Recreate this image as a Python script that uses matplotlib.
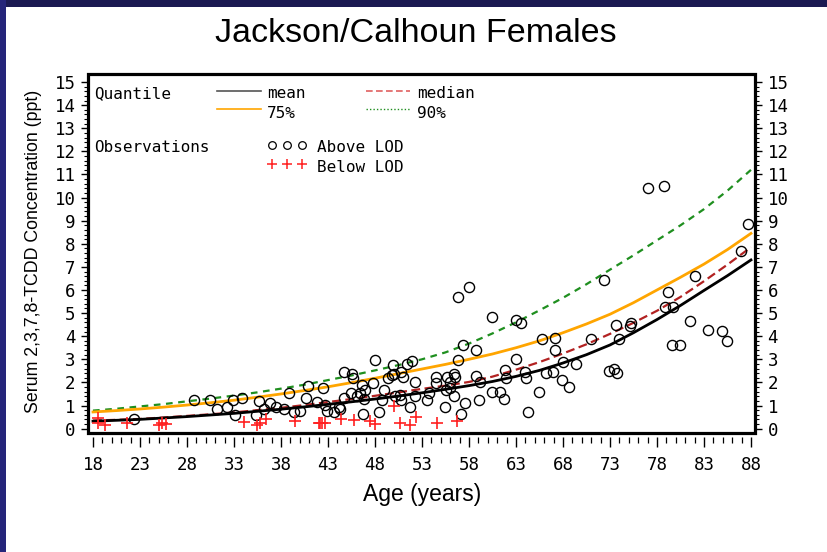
import matplotlib
matplotlib.use('Agg')
import matplotlib.pyplot as plt
from matplotlib import font_manager as fm
from matplotlib.patches import Rectangle
from matplotlib.lines import Line2D
from matplotlib.ticker import FixedLocator

# ---------------- data ----------------
curve_ages = [18, 20.5, 23, 25.5, 28, 30.5, 33, 35.5, 38, 40.5, 43, 45.5, 48, 50.5, 53,
              55.5, 58, 60.5, 63, 65.5, 68, 70.5, 73, 75.5, 78, 80.5, 83, 85.5, 88]
mean_vals = [0.32, 0.36, 0.40, 0.46, 0.52, 0.59, 0.66, 0.75, 0.84, 0.94, 1.05, 1.16, 1.28,
             1.41, 1.55, 1.70, 1.86, 2.04, 2.26, 2.52, 2.84, 3.20, 3.62, 4.15, 4.72, 5.33,
             5.98, 6.62, 7.30]
median_vals = [0.35, 0.38, 0.42, 0.48, 0.55, 0.62, 0.70, 0.80, 0.90, 1.02, 1.15, 1.28, 1.42,
               1.57, 1.72, 1.86, 2.02, 2.25, 2.55, 2.88, 3.25, 3.65, 4.10, 4.58, 5.10, 5.70,
               6.38, 7.10, 7.85]
q75_vals = [0.72, 0.78, 0.85, 0.93, 1.02, 1.12, 1.23, 1.36, 1.50, 1.65, 1.81, 1.99, 2.18,
            2.38, 2.58, 2.78, 3.00, 3.23, 3.50, 3.80, 4.15, 4.53, 4.95, 5.45, 6.00, 6.55,
            7.12, 7.75, 8.45]
q90_vals = [0.78, 0.86, 0.96, 1.06, 1.18, 1.30, 1.43, 1.57, 1.73, 1.90, 2.10, 2.30, 2.52,
            2.75, 3.00, 3.30, 3.68, 4.12, 4.60, 5.12, 5.66, 6.25, 6.88, 7.50, 8.15, 8.80,
            9.50, 10.30, 11.20]

above_age = [22.4, 28.7, 30.4, 31.2, 32.3, 32.9, 33.1, 33.9, 35.3, 35.7, 36.2, 36.8, 37.5, 38.3,
             38.9, 39.4, 40.0, 40.7, 40.9, 41.8, 42.5, 42.7, 42.9, 43.6, 44.2, 44.3, 44.7, 44.7,
             45.6, 45.7, 45.4, 46.1, 46.4, 46.6, 46.7, 46.8, 46.9, 47.8, 48.0, 48.4, 48.8, 49.0,
             49.4, 49.8, 49.9, 50.0, 50.1,
             50.8, 51.0, 50.7, 50.8, 51.4, 51.9, 52.3, 52.3, 51.7, 53.5, 53.8, 54.5, 54.5, 55.4,
             55.6, 55.7, 56.0, 56.0, 56.4, 56.5, 56.4, 56.8, 56.8, 57.2, 57.4, 57.6, 58.0, 58.8,
             58.8, 59.1, 59.2, 60.5, 60.5, 61.3, 61.7, 61.8, 61.9, 63.0, 63.0, 63.5, 64.0, 64.1,
             64.3, 65.5, 65.8, 66.2, 66.9, 67.1, 67.1, 67.9, 68.0, 68.6, 69.4, 71.0, 72.4, 72.9,
             73.4, 73.7, 73.6, 74.0, 75.1, 75.2, 77.0, 78.7, 79.2, 78.9, 79.7, 79.6, 80.5, 81.5,
             82.0, 83.4, 84.9, 85.5, 86.9, 87.7]
above_val = [0.40, 1.24, 1.24, 0.85, 0.95, 1.24, 0.59, 1.31, 0.59, 1.20, 0.84, 1.10, 0.95, 0.84,
             1.53, 0.71, 0.78, 1.34, 1.85, 1.17, 1.75, 1.01, 0.78, 0.71, 0.92, 0.84, 2.45, 1.34,
             2.35, 2.20, 1.53, 1.39, 1.56, 1.89, 0.63, 1.28, 1.67, 1.96, 2.97, 0.74, 1.24, 1.67,
             2.18, 2.32, 2.76, 2.37, 1.41,
             2.47, 2.22, 1.46, 1.24, 2.78, 2.93, 2.01, 1.39, 0.95, 1.24, 1.56, 2.25, 1.99, 0.95,
             1.67, 2.25, 2.03, 1.75, 2.37, 2.25, 1.39, 5.71, 2.97, 0.63, 3.62, 1.10, 6.12, 3.41,
             2.29, 1.24, 2.03, 4.81, 1.60, 1.57, 1.27, 2.54, 2.18, 4.68, 3.00, 4.56, 2.47, 2.18,
             0.72, 1.60, 3.87, 2.42, 2.47, 3.91, 3.41, 2.11, 2.90, 1.82, 2.78, 3.87, 6.44, 2.50,
             2.58, 2.40, 4.49, 3.88, 4.44, 4.56, 10.40, 10.51, 5.92, 5.28, 5.28, 3.61, 3.61, 4.66,
             6.61, 4.27, 4.23, 3.81, 7.69, 8.85]

below_age = [18.5, 18.5, 19.3, 21.6, 25.0, 25.3, 25.8, 34.1, 35.4, 35.8, 36.4, 39.5, 42.0, 42.2,
             42.4, 42.7, 44.4, 45.8, 47.5, 48.0, 50.0, 50.7, 51.7, 52.4, 54.6, 56.7]
below_val = [0.45, 0.23, 0.14, 0.26, 0.16, 0.26, 0.20, 0.27, 0.17, 0.23, 0.40, 0.33, 0.23, 0.23,
             0.23, 0.23, 0.40, 0.36, 0.35, 0.20, 0.98, 0.23, 0.14, 0.52, 0.23, 0.32]

x_ticks = list(range(18, 89, 5))
x_minor = list(range(18, 89))
y_ticks = list(range(0, 16))
y_minor = [i / 5 for i in range(0, 76)]

title_text = "Jackson/Calhoun Females"
xlabel_text = "Age (years)"
ylabel_text = "Serum 2,3,7,8-TCDD Concentration (ppt)"

# ---------------- fonts ----------------
names = {f.name for f in fm.fontManager.ttflist}
mono = 'DejaVu Sans Mono' if 'DejaVu Sans Mono' in names else 'DejaVu Sans'
sans = 'Liberation Sans' if 'Liberation Sans' in names else 'DejaVu Sans'

W, H = 828, 552
fig = plt.figure(figsize=(W / 100, H / 100), dpi=100)
fig.patch.set_facecolor('white')

# dark frame bands
fig.patches.append(Rectangle((0, 1 - 7 / H), 1, 7 / H, transform=fig.transFigure,
                             facecolor='#1b1a52', edgecolor='none', zorder=0))
fig.patches.append(Rectangle((0, 0), 6 / W, 1, transform=fig.transFigure,
                             facecolor='#25257a', edgecolor='none', zorder=0))

L, R, T, B = 88, 755, 74, 433
ax = fig.add_axes([L / W, 1 - B / H, (R - L) / W, (B - T) / H])
ax.set_xlim(17.47, 88.43)
ax.set_ylim(-0.19, 15.35)

# curves
ax.plot(curve_ages, q90_vals, color='#1f8f1f', lw=1.6, dashes=(3, 2.5), zorder=3)
ax.plot(curve_ages, q75_vals, color='#ffa500', lw=2.0, zorder=3)
ax.plot(curve_ages, median_vals, color='#b22222', lw=1.6, dashes=(4, 2), zorder=3)
ax.plot(curve_ages, mean_vals, color='black', lw=2.0, zorder=3)

# observations
ax.plot(above_age, above_val, linestyle='none', marker='o', ms=7.3, mfc='none',
        mec='black', mew=1.0, zorder=4)
ax.plot(below_age, below_val, linestyle='none', marker='+', ms=8, mec='#ff2020',
        mew=1.2, zorder=4)

# spines / box
for s in ('left', 'right', 'top'):
    ax.spines[s].set_visible(False)
ax.spines['bottom'].set_position(('outward', 2.9))
ax.spines['bottom'].set_edgecolor('none')
ax.add_patch(Rectangle((0, 0), 1, 1, transform=ax.transAxes, fill=False,
                       lw=2.3, ec='black', zorder=6, clip_on=False))

ax.xaxis.set_major_locator(FixedLocator(x_ticks))
ax.xaxis.set_minor_locator(FixedLocator(x_minor))
ax.yaxis.set_major_locator(FixedLocator(y_ticks))
ax.yaxis.set_minor_locator(FixedLocator(y_minor))
ax.set_xticklabels([str(v) for v in x_ticks])
ax.set_yticklabels([str(v) for v in y_ticks])

ax.tick_params(axis='x', which='major', length=7.5, width=1.0, direction='out', pad=6,
               labelsize=12.5, color='black')
ax.tick_params(axis='x', which='minor', length=4.3, width=0.9, direction='out', color='black')
ax.tick_params(axis='y', which='both', left=True, right=True, labelleft=True,
               labelright=True, direction='out')
ax.tick_params(axis='y', which='major', length=5, width=1.0, pad=4, labelsize=12.5)
ax.tick_params(axis='y', which='minor', length=3, width=0.8)
for lab in ax.get_xticklabels() + ax.get_yticklabels():
    lab.set_fontfamily(mono)

# titles
fig.text(416 / W, 1 - 33 / H, title_text, ha='center', va='center', fontsize=24.5,
         family=sans)
fig.text(422 / W, 1 - 495 / H, xlabel_text, ha='center', va='center', fontsize=16.5,
         family=sans)
fig.text(34 / W, 1 - 251 / H, ylabel_text, ha='center', va='center', fontsize=12.8,
         family=sans, rotation=90)

# ---------------- legend ----------------
def axc(px, py):
    return ((px - L) / (R - L), (B - py) / (B - T))

lfs = 11.5
def ltext(px, py, s):
    x, y = axc(px, py)
    ax.text(x, y, s, transform=ax.transAxes, ha='left', va='center', fontsize=lfs,
            family=mono, zorder=7)

def lline(px0, px1, py, **kw):
    x0, y = axc(px0, py)
    x1, _ = axc(px1, py)
    ax.add_line(Line2D([x0, x1], [y, y], transform=ax.transAxes, zorder=7, **kw))

ltext(94, 93.5, "Quantile")
lline(217, 261, 91, color='#555555', lw=1.2)
ltext(267, 93.5, "mean")
lline(366, 410, 91, color='#e06060', lw=1.2, dashes=(4, 2))
ltext(417, 93.5, "median")
lline(217, 261, 109, color='#ffa500', lw=1.2)
ltext(267, 113.5, "75%")
lline(366, 410, 109, color='#1f8f1f', lw=1.0, dashes=(1, 1.5))
ltext(417, 113.5, "90%")

ltext(94, 147, "Observations")
for px in (272, 287, 302):
    x, y = axc(px, 145)
    ax.plot([x], [y], transform=ax.transAxes, marker='o', ms=5.5, mfc='none', mec='black',
            mew=0.9, zorder=7, clip_on=False)
    x, y = axc(px, 164)
    ax.plot([x], [y], transform=ax.transAxes, marker='+', ms=7, mec='#ff2020',
            mew=1.1, zorder=7, clip_on=False)
ltext(317, 147, "Above LOD")
ltext(317, 167, "Below LOD")

fig.savefig('out.png', dpi=100)
